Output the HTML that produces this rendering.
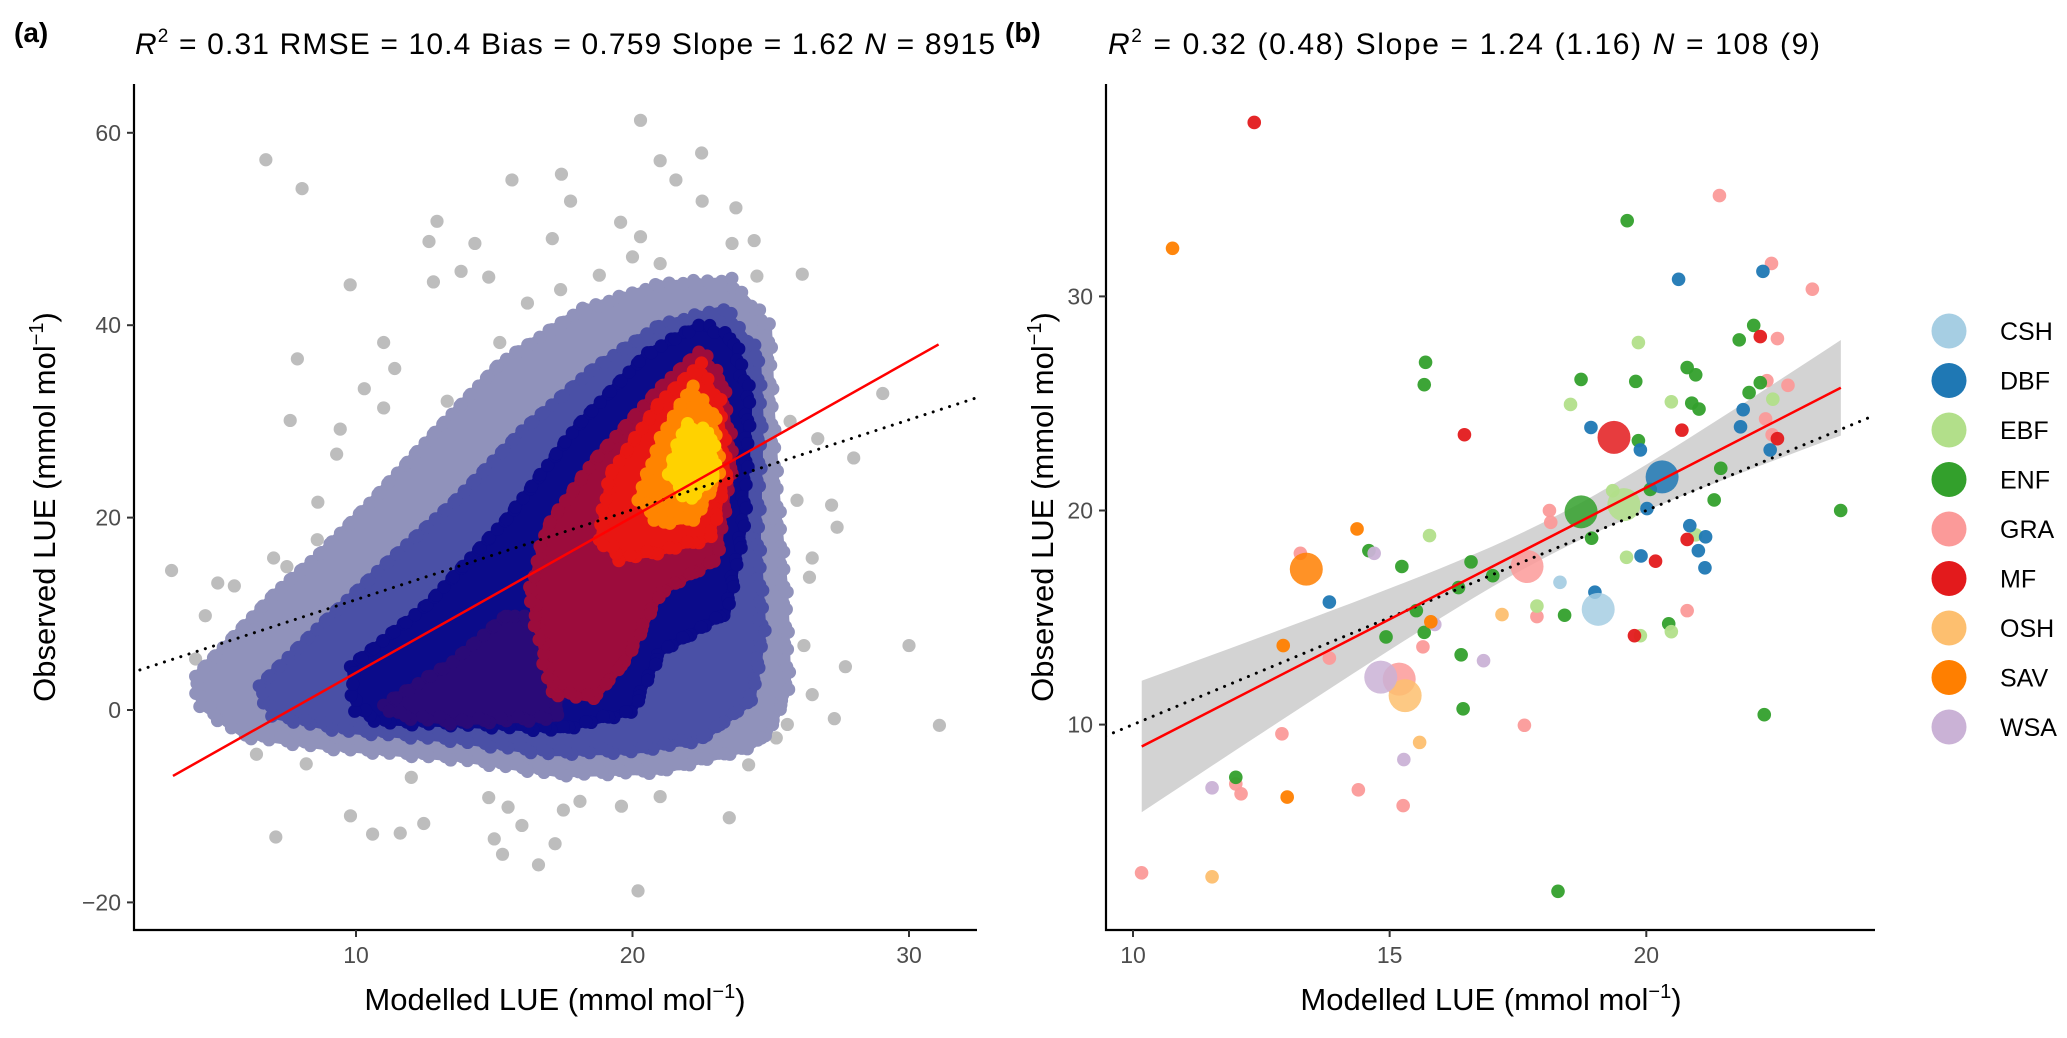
<!DOCTYPE html>
<html><head><meta charset="utf-8"><style>
body{margin:0;background:#fff;}
svg{display:block;font-family:"Liberation Sans",sans-serif;}
</style></head><body>
<svg id="fig" width="2067" height="1038" viewBox="0 0 2067 1038">
<defs>
<clipPath id="clipA"><rect x="134" y="84" width="843" height="846"/></clipPath>
<clipPath id="clipB"><rect x="1106" y="84" width="769" height="846"/></clipPath>
</defs>
<g id="panelA"></g>
<g id="panelB"></g>
</svg>
<script>
// ---------- Panel A data ----------
const aOutlierX=[6.74,8.05,9.79,7.88,11.0,7.62,9.43,8.62,7.02,5.0,3.33,4.55,15.64,17.43,12.93,14.3,17.76,20.29,21.0,21.57,22.5,22.52,23.74,19.57,20.29,24.4,26.14,12.64,17.1,13.8,14.8,12.8,17.4,18.8,29.05,26.7,28,27.2,27.4,26.5,26.4,25.3,30,27.7,26.5,27.3,31.1,25.6,24.2,23.5,21,20.2,19.6,18.1,17.5,17.2,16.6,15.3,15,16,15.5,14.8,12.45,11.6,10.6,9.8,7.1,12,8.2,6.4,5.95,4.2,5.6,7.5,8.6,9.3,10.3,11.4,11,13.3,13.8,15.2,16.2,20,21,23.6,24.5,25.7,25.95,26.2,25.2];
const aOutlierY=[57.2,54.2,44.2,36.5,38.2,30.1,29.2,21.6,15.8,13.2,14.5,9.8,55.1,55.7,50.8,48.5,52.9,61.3,57.1,55.1,57.9,52.9,52.2,50.7,49.2,48.8,45.3,48.7,49,45.6,45,44.5,43.7,45.2,32.9,28.2,26.2,21.3,19,15.8,13.8,10,6.7,4.5,1.6,-0.9,-1.6,-1.5,-5.7,-11.2,-9,-18.8,-10,-9.5,-10.4,-13.9,-16.1,-15,-13.4,-12,-10.1,-9.1,-11.8,-12.8,-12.9,-11,-13.2,-7,-5.6,-4.6,1.9,5.3,12.9,14.9,17.7,26.6,33.4,35.5,31.4,32.1,29.3,38.2,42.3,47.1,46.4,48.5,45.1,30,21.8,6.7,-2.9];
// density layers: outlines in data units (x = modelled, y = observed)
const layerOuterX=[4.2,5.2,7.1,8.8,10.5,12.9,15.2,18.1,21,23.5,24.9,25.0,25.2,25.5,25.6,24.9,24.2,21,17.4,13.8,9,6.0,4.4];
const layerOuterY=[3.5,6.5,12.2,16.5,21.5,29,36,41.5,44.2,44.6,40,31.4,22,12,2,-2.4,-3.9,-6.3,-6.6,-5.0,-3.8,-2.6,0.5];
const layerMidX=[6.5,8.8,11,13.5,16,18.6,21,23.3,24.5,24.6,24.5,24.7,24.3,22.5,20,17,13.5,9.5,7.0];
const layerMidY=[2.5,9,15,21.5,29,35.5,40,41.6,37,30,18,8,1,-3,-4.2,-4.4,-3.0,-2.0,-0.5];
const layerNavyX=[9.8,12.6,15.5,18.0,20.5,22.4,23.6,24.2,24.0,23.4,21,20,17.4,13.8,11,10.0];
const layerNavyY=[4.5,11,20,29.5,37,40,38.8,32.7,19,10.1,6,-0.1,-2.0,-1.4,-1.2,0.0];
const layerPurpleX=[11,13.5,15.5,16.5,17.5,17.2,13.5,11.5];
const layerPurpleY=[0.5,5,10,9,3,-0.8,-1.2,-0.5];
const layerCrimsonX=[17.1,16.3,16.9,18.6,21,22.4,23.2,23.6,23.0,21,19.8,18.6];
const layerCrimsonY=[1.9,12.2,19,25.9,33.5,37.2,34.5,25.9,15.6,12.2,5.3,1.2];
const layerRedX=[18.8,19.2,21,22.4,23.1,23.4,22.8,21,19.6];
const layerRedY=[17.7,24.5,32.0,35.8,32.0,24.5,17.9,16.5,15.8];
const layerOrangeX=[20.2,21.1,22.1,22.9,23.1,22.3,21.1];
const layerOrangeY=[21.8,28.6,33.4,30.8,24.5,20.0,19.4];
const layerYellowX=[21.3,21.9,22.8,23.0,22.1];
const layerYellowY=[24.5,29.5,29.0,24.5,21.9];
const aTicksX=[10,20,30];
const aTicksY=[-20,0,20,40,60];
const aFit=[1.62,-12.33]; // slope, intercept (red)
const aFitRange=[3.38,31.07];
const aRef=[0.935,2.12]; // dotted line

// ---------- Panel B data ----------
const bCats=["CSH","DBF","EBF","ENF","GRA","MF","OSH","SAV","WSA"];
const bColors=["#a6cee3","#1f78b4","#b2df8a","#33a02c","#fb9a99","#e31a1c","#fdbf6f","#ff7f00","#cab2d6"];
const bX=[];const bY=[];const bC=[];const bBig=[];
function addPts(cat,arr,big){for(const p of arr){bX.push(10+(p[0]-152)/77.9);bY.push(10+(1100-p[1])/32.5);bC.push(cat);bBig.push(big);}}
const ptsMF=[[336,186],[655,660],[985,653],[1104,511],[993,819],[945,852],[913,965],[1130,666]];
const ptsSAV=[[212,377],[492,803],[604,944],[380,980],[386,1210]];
const ptsGRA=[[1042,297],[1121,400],[1183,439],[1130,514],[1114,578],[1146,585],[1112,636],[1122,660],[784,775],[786,793],[406,840],[592,982],[450,999],[765,936],[993,927],[746,1101],[378,1114],[308,1190],[316,1205],[494,1199],[562,1223],[165,1325]];
const ptsENF=[[902,335],[596,550],[594,584],[832,576],[915,579],[993,558],[1006,569],[1000,612],[1011,621],[1094,494],[1072,516],[1104,581],[1087,596],[919,669],[1044,711],[937,743],[1034,759],[1226,775],[848,817],[510,836],[560,860],[665,853],[698,874],[582,927],[646,892],[807,934],[965,947],[594,960],[536,967],[650,994],[653,1076],[1110,1085],[308,1180],[797,1353]];
const ptsEBF=[[919,520],[816,614],[969,610],[602,813],[880,745],[901,846],[765,920],[922,965],[969,959],[1123,606],[1006,812]];
const ptsDBF=[[980,424],[1108,412],[847,649],[922,683],[1078,622],[1074,648],[1119,683],[932,772],[997,798],[1021,815],[1010,836],[1020,862],[923,844],[450,914],[853,899]];
const ptsCSH=[[800,884]];
const ptsOSH=[[712,933],[587,1127],[272,1331]];
const ptsWSA=[[518,840],[610,948],[684,1003],[563,1153],[272,1196]];
const bigPts=[["GRA",[[750,860],[556,1031]]],["ENF",[[832,777]]],["EBF",[[897,766]]],["DBF",[[955,724]]],["CSH",[[858,925]]],["OSH",[[565,1056]]],["WSA",[[528,1028]]],["SAV",[[415,864]]],["MF",[[882,664]]]];
const bTicksX=[10,15,20];
const bTicksY=[10,20,30];
const bFit=[1.23,-3.53];
const bFitRange=[10.17,23.79];
const bRef=[1.0,0.0];
const bCI=[0.7,0.136,18.18]; // a, b, mean-x for ribbon half-width

addPts("GRA",ptsGRA,false);addPts("ENF",ptsENF,false);addPts("EBF",ptsEBF,false);addPts("DBF",ptsDBF,false);
addPts("CSH",ptsCSH,false);addPts("OSH",ptsOSH,false);addPts("WSA",ptsWSA,false);addPts("SAV",ptsSAV,false);addPts("MF",ptsMF,false);
for(const g of bigPts) addPts(g[0],g[1],true);

const NS="http://www.w3.org/2000/svg";
function mk(parent,tag,attrs,text){const e=document.createElementNS(NS,tag);for(const k in attrs)e.setAttribute(k,attrs[k]);if(text!==undefined)e.textContent=text;parent.appendChild(e);return e;}

// ---- Panel A scales ----
const axA=x=>356+(x-10)*27.65;
const ayA=y=>710-y*9.62;
const A=document.getElementById('panelA');
const plotA=mk(A,'g',{'clip-path':'url(#clipA)'});


for(let i=0;i<aOutlierX.length;i++){
 const c=mk(plotA,'circle',{cx:axA(aOutlierX[i]),cy:ayA(aOutlierY[i]),r:6.6,fill:'#bdbdbd'});
 
 
}
const layers=[[layerOuterX,layerOuterY,'#9092bb'],[layerMidX,layerMidY,'#4a50a6'],[layerNavyX,layerNavyY,'#0b0b8a'],[layerPurpleX,layerPurpleY,'#2a0a78'],[layerCrimsonX,layerCrimsonY,'#9c0c3c'],[layerRedX,layerRedY,'#e81612'],[layerOrangeX,layerOrangeY,'#ff8400'],[layerYellowX,layerYellowY,'#ffd200']];
const lnames=['density-outer','density-mid','density-navy','density-purple','density-crimson','density-red','density-orange','density-yellow'];
layers.forEach((L,j)=>{
 const P=L[0].map((x,i)=>[axA(x),ayA(L[1][i])]);
 const g=mk(plotA,'g',{fill:L[2]});
 
 
 mk(g,'polygon',{points:P.map(p=>p.join(',')).join(' '),stroke:L[2],'stroke-width':8,'stroke-linejoin':'round'});
 // dotted edge (marker-like bumps along the outline)
 let k=0;
 for(let i=0;i<P.length;i++){
  const a=P[i],b=P[(i+1)%P.length];
  const len=Math.hypot(b[0]-a[0],b[1]-a[1]);const n=Math.max(1,Math.round(len/8));
  for(let s=0;s<n;s++){const t=s/n;k++;
   const off=((k*7)%5-2)*1.3;
   mk(g,'circle',{cx:a[0]+(b[0]-a[0])*t+off,cy:a[1]+(b[1]-a[1])*t-off,r:6.6});}
 }
});
const refA=mk(plotA,'line',{x1:axA(1),y1:ayA(aRef[0]*1+aRef[1]),x2:axA(33),y2:ayA(aRef[0]*33+aRef[1]),stroke:'#000','stroke-width':3,'stroke-dasharray':'0.1 8.5','stroke-linecap':'round'});


const fitA=mk(plotA,'line',{x1:axA(aFitRange[0]),y1:ayA(aFit[0]*aFitRange[0]+aFit[1]),x2:axA(aFitRange[1]),y2:ayA(aFit[0]*aFitRange[1]+aFit[1]),stroke:'#ff0000','stroke-width':2.5});


const axisA=mk(A,'path',{d:'M134,84 V930 H977',fill:'none',stroke:'#000','stroke-width':2.2});


for(const t of aTicksX){
 mk(A,'line',{x1:axA(t),x2:axA(t),y1:930,y2:937,stroke:'#333','stroke-width':2});
 const l=mk(A,'text',{x:axA(t),y:963,'text-anchor':'middle','font-size':23,fill:'#4d4d4d'},t);
 
 
}
for(const t of aTicksY){
 mk(A,'line',{x1:127,x2:134,y1:ayA(t),y2:ayA(t),stroke:'#333','stroke-width':2});
 const l=mk(A,'text',{x:121,y:ayA(t)+8,'text-anchor':'end','font-size':23,fill:'#4d4d4d'},t<0?'\u2212'+(-t):t);
 
 
}

// ---- Panel B scales ----
const axB=x=>1133+(x-10)*51.33;
const ayB=y=>724.6-(y-10)*21.41;
const B=document.getElementById('panelB');
const plotB=mk(B,'g',{'clip-path':'url(#clipB)'});


let up=[],dn=[];
for(let i=0;i<=40;i++){const x=bFitRange[0]+(bFitRange[1]-bFitRange[0])*i/40;const yv=bFit[0]*x+bFit[1];const h=Math.sqrt(bCI[0]+bCI[1]*(x-bCI[2])**2);up.push(axB(x)+','+ayB(yv+h));dn.unshift(axB(x)+','+ayB(yv-h));}
const rib=mk(plotB,'polygon',{points:up.concat(dn).join(' '),fill:'#d3d3d3'});


for(let i=0;i<bX.length;i++){
 const ci=bCats.indexOf(bC[i]);
 const c=mk(plotB,'circle',{cx:axB(bX[i]),cy:ayB(bY[i]),r:bBig[i]?16.5:6.8,fill:bColors[ci],'fill-opacity':bBig[i]?0.85:0.95});
 
 
}
const refB=mk(plotB,'line',{x1:axB(9),y1:ayB(bRef[0]*9+bRef[1]),x2:axB(24.35),y2:ayB(bRef[0]*24.35+bRef[1]),stroke:'#000','stroke-width':3,'stroke-dasharray':'0.1 8.5','stroke-linecap':'round'});


const fitB=mk(plotB,'line',{x1:axB(bFitRange[0]),y1:ayB(bFit[0]*bFitRange[0]+bFit[1]),x2:axB(bFitRange[1]),y2:ayB(bFit[0]*bFitRange[1]+bFit[1]),stroke:'#ff0000','stroke-width':2.5});


const axisB=mk(B,'path',{d:'M1106,84 V930 H1875',fill:'none',stroke:'#000','stroke-width':2.2});


for(const t of bTicksX){
 mk(B,'line',{x1:axB(t),x2:axB(t),y1:930,y2:937,stroke:'#333','stroke-width':2});
 const l=mk(B,'text',{x:axB(t),y:963,'text-anchor':'middle','font-size':23,fill:'#4d4d4d'},t);
 
 
}
for(const t of bTicksY){
 mk(B,'line',{x1:1099,x2:1106,y1:ayB(t),y2:ayB(t),stroke:'#333','stroke-width':2});
 const l=mk(B,'text',{x:1093,y:ayB(t)+8,'text-anchor':'end','font-size':23,fill:'#4d4d4d'},t);
 
 
}
bCats.forEach((c,i)=>{
 const y=331+i*49.5;
 const g=mk(B,'g',{});
 
 
 mk(g,'circle',{cx:1949,cy:y,r:17.5,fill:bColors[i]});
 mk(g,'text',{x:2000,y:y+9,'font-size':25,fill:'#000'},c);
});
</script>
<script>
const S=document.getElementById('fig');
function T(attrs,html,name){const e=document.createElementNS("http://www.w3.org/2000/svg",'text');for(const k in attrs)e.setAttribute(k,attrs[k]);e.innerHTML=html;S.appendChild(e);return e;}
T({x:14,y:42,'font-size':28,'font-weight':'bold'},'(a)','panel-a-label');
T({x:1005,y:42,'font-size':28,'font-weight':'bold'},'(b)','panel-b-label');
T({x:135,y:54,'font-size':30,textLength:860,lengthAdjust:'spacing'},'<tspan font-style="italic">R</tspan><tspan dy="-12" font-size="19">2</tspan><tspan dy="12"> = 0.31  RMSE = 10.4  Bias = 0.759  Slope = 1.62  </tspan><tspan font-style="italic">N</tspan><tspan> = 8915</tspan>','panel-a-title');
T({x:1108,y:54,'font-size':30,textLength:712,lengthAdjust:'spacing'},'<tspan font-style="italic">R</tspan><tspan dy="-12" font-size="19">2</tspan><tspan dy="12"> = 0.32 (0.48)   Slope = 1.24 (1.16)   </tspan><tspan font-style="italic">N</tspan><tspan> = 108 (9)</tspan>','panel-b-title');
T({x:555,y:1010,'font-size':31,'text-anchor':'middle'},'Modelled LUE (mmol mol<tspan dy="-12" font-size="20">\u22121</tspan><tspan dy="12">)</tspan>','x-axis-title-a');
T({x:1491,y:1010,'font-size':31,'text-anchor':'middle'},'Modelled LUE (mmol mol<tspan dy="-12" font-size="20">\u22121</tspan><tspan dy="12">)</tspan>','x-axis-title-b');
T({x:0,y:0,'font-size':31,'text-anchor':'middle',transform:'translate(55,507) rotate(-90)'},'Observed LUE (mmol mol<tspan dy="-12" font-size="20">\u22121</tspan><tspan dy="12">)</tspan>','y-axis-title-a');
T({x:0,y:0,'font-size':31,'text-anchor':'middle',transform:'translate(1053,507) rotate(-90)'},'Observed LUE (mmol mol<tspan dy="-12" font-size="20">\u22121</tspan><tspan dy="12">)</tspan>','y-axis-title-b');
</script>
</body></html>
